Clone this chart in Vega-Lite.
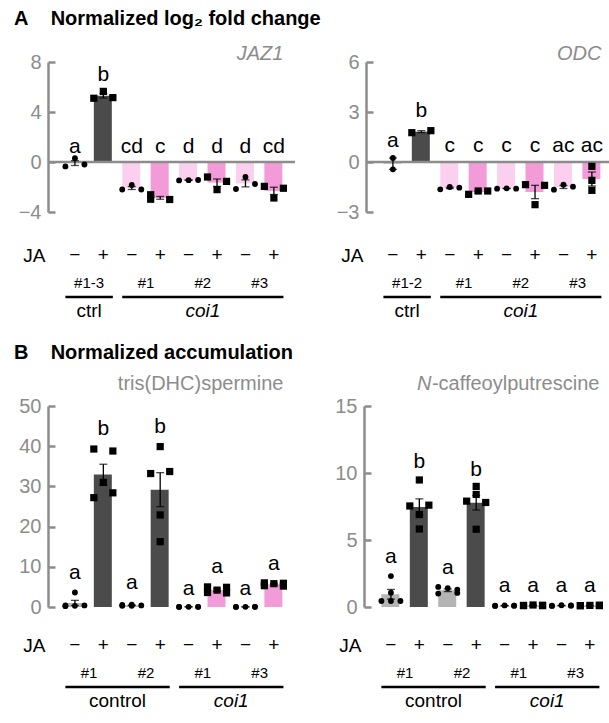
{
"$schema":"https://vega.github.io/schema/vega-lite/v6.json",
"padding":{"left":14,"top":9,"right":0,"bottom":0},
"config":{"font":"Liberation Sans","view":{"stroke":null},
"axisY":{"grid":false,"domainColor":"#8c8c8c","domainWidth":2.5,"tickColor":"#8c8c8c","tickWidth":2.5,"tickSize":-7,"labelColor":"#8c8c8c","labelFontSize":20,"labelPadding":14,"minExtent":34,"maxExtent":34},
"title":{"fontSize":20,"fontWeight":"bold","anchor":"start","color":"black"}},
"datasets":{
"bars":[
{"p":"AL","bar":"1","ja":"−","kind":"ctrl−","mean":-0.08,"lo":-0.28,"hi":0.11,"letter":"a","lab":0.7},
{"p":"AL","bar":"2","ja":"+","kind":"ctrl+","mean":5.3,"lo":5.12,"hi":5.48,"letter":"b","lab":6.5},
{"p":"AL","bar":"3","ja":"−","kind":"coi1−","mean":-2.08,"lo":-2.2,"hi":-1.96,"letter":"cd","lab":0.7},
{"p":"AL","bar":"4","ja":"+","kind":"coi1+","mean":-2.87,"lo":-2.98,"hi":-2.76,"letter":"c","lab":0.7},
{"p":"AL","bar":"5","ja":"−","kind":"coi1−","mean":-1.45,"lo":-1.47,"hi":-1.43,"letter":"d","lab":0.7},
{"p":"AL","bar":"6","ja":"+","kind":"coi1+","mean":-1.65,"lo":-1.95,"hi":-1.36,"letter":"d","lab":0.7},
{"p":"AL","bar":"7","ja":"−","kind":"coi1−","mean":-1.71,"lo":-1.99,"hi":-1.43,"letter":"d","lab":0.7},
{"p":"AL","bar":"8","ja":"+","kind":"coi1+","mean":-2.31,"lo":-2.6,"hi":-2.02,"letter":"cd","lab":0.7},
{"p":"AR","bar":"1","ja":"−","kind":"ctrl−","mean":-0.1,"lo":-0.44,"hi":0.24,"letter":"a","lab":0.9},
{"p":"AR","bar":"2","ja":"+","kind":"ctrl+","mean":1.82,"lo":1.76,"hi":1.88,"letter":"b","lab":2.7},
{"p":"AR","bar":"3","ja":"−","kind":"coi1−","mean":-1.56,"lo":-1.6,"hi":-1.52,"letter":"c","lab":0.6},
{"p":"AR","bar":"4","ja":"+","kind":"coi1+","mean":-1.8,"lo":-1.87,"hi":-1.74,"letter":"c","lab":0.6},
{"p":"AR","bar":"5","ja":"−","kind":"coi1−","mean":-1.59,"lo":-1.6,"hi":-1.58,"letter":"c","lab":0.6},
{"p":"AR","bar":"6","ja":"+","kind":"coi1+","mean":-1.8,"lo":-2.2,"hi":-1.4,"letter":"c","lab":0.6},
{"p":"AR","bar":"7","ja":"−","kind":"coi1−","mean":-1.5,"lo":-1.59,"hi":-1.41,"letter":"ac","lab":0.6},
{"p":"AR","bar":"8","ja":"+","kind":"coi1+","mean":-1.02,"lo":-1.44,"hi":-0.6,"letter":"ac","lab":0.6},
{"p":"BL","bar":"1","ja":"−","kind":"ctrl−","mean":1.0,"lo":0.35,"hi":1.65,"letter":"a","lab":6.9},
{"p":"BL","bar":"2","ja":"+","kind":"ctrl+","mean":32.94,"lo":30.37,"hi":35.51,"letter":"b","lab":42.8},
{"p":"BL","bar":"3","ja":"−","kind":"ctrl−","mean":0.42,"lo":0.36,"hi":0.48,"letter":"a","lab":4.4},
{"p":"BL","bar":"4","ja":"+","kind":"ctrl+","mean":29.19,"lo":24.96,"hi":33.42,"letter":"b","lab":43.4},
{"p":"BL","bar":"5","ja":"−","kind":"coi1−","mean":0.04,"lo":0.036,"hi":0.044,"letter":"a","lab":3.0},
{"p":"BL","bar":"6","ja":"+","kind":"coi1+","mean":4.24,"lo":3.93,"hi":4.55,"letter":"a","lab":8.5},
{"p":"BL","bar":"7","ja":"−","kind":"coi1−","mean":0.04,"lo":0.036,"hi":0.044,"letter":"a","lab":3.0},
{"p":"BL","bar":"8","ja":"+","kind":"coi1+","mean":5.64,"lo":5.45,"hi":5.83,"letter":"a","lab":9.2},
{"p":"BR","bar":"1","ja":"−","kind":"ctrl−","mean":0.95,"lo":0.59,"hi":1.31,"letter":"a","lab":3.26},
{"p":"BR","bar":"2","ja":"+","kind":"ctrl+","mean":7.47,"lo":6.87,"hi":8.07,"letter":"b","lab":10.4},
{"p":"BR","bar":"3","ja":"−","kind":"ctrl−","mean":1.25,"lo":1.15,"hi":1.35,"letter":"a","lab":2.5},
{"p":"BR","bar":"4","ja":"+","kind":"ctrl+","mean":7.78,"lo":7.24,"hi":8.32,"letter":"b","lab":9.8},
{"p":"BR","bar":"5","ja":"−","kind":"coi1−","mean":0.1,"lo":0.09,"hi":0.11,"letter":"a","lab":1.15},
{"p":"BR","bar":"6","ja":"+","kind":"coi1+","mean":0.12,"lo":0.11,"hi":0.13,"letter":"a","lab":1.15},
{"p":"BR","bar":"7","ja":"−","kind":"coi1−","mean":0.11,"lo":0.1,"hi":0.12,"letter":"a","lab":1.15},
{"p":"BR","bar":"8","ja":"+","kind":"coi1+","mean":0.11,"lo":0.1,"hi":0.12,"letter":"a","lab":1.15}
],
"pts":[
{"p":"AL","bar":"1","ja":"−","col":"C","v":0.3},{"p":"AL","bar":"1","ja":"−","col":"L","v":-0.35},{"p":"AL","bar":"1","ja":"−","col":"R","v":-0.2},
{"p":"AL","bar":"2","ja":"+","col":"C","v":5.65},{"p":"AL","bar":"2","ja":"+","col":"L","v":5.1},{"p":"AL","bar":"2","ja":"+","col":"R","v":5.15},
{"p":"AL","bar":"3","ja":"−","col":"C","v":-1.84},{"p":"AL","bar":"3","ja":"−","col":"L","v":-2.2},{"p":"AL","bar":"3","ja":"−","col":"R","v":-2.2},
{"p":"AL","bar":"4","ja":"+","col":"L","v":-2.62},{"p":"AL","bar":"4","ja":"+","col":"L","v":-2.98},{"p":"AL","bar":"4","ja":"+","col":"R","v":-3.0},
{"p":"AL","bar":"5","ja":"−","col":"L","v":-1.47},{"p":"AL","bar":"5","ja":"−","col":"C","v":-1.45},{"p":"AL","bar":"5","ja":"−","col":"R","v":-1.44},
{"p":"AL","bar":"6","ja":"+","col":"L","v":-1.2},{"p":"AL","bar":"6","ja":"+","col":"R","v":-1.55},{"p":"AL","bar":"6","ja":"+","col":"C","v":-2.21},
{"p":"AL","bar":"7","ja":"−","col":"C","v":-1.2},{"p":"AL","bar":"7","ja":"−","col":"L","v":-2.16},{"p":"AL","bar":"7","ja":"−","col":"R","v":-1.76},
{"p":"AL","bar":"8","ja":"+","col":"L","v":-1.95},{"p":"AL","bar":"8","ja":"+","col":"R","v":-2.1},{"p":"AL","bar":"8","ja":"+","col":"C","v":-2.88},
{"p":"AR","bar":"1","ja":"−","col":"C","v":0.24},{"p":"AR","bar":"1","ja":"−","col":"C","v":-0.44},
{"p":"AR","bar":"2","ja":"+","col":"L","v":1.76},{"p":"AR","bar":"2","ja":"+","col":"R","v":1.88},
{"p":"AR","bar":"3","ja":"−","col":"L","v":-1.64},{"p":"AR","bar":"3","ja":"−","col":"C","v":-1.5},{"p":"AR","bar":"3","ja":"−","col":"R","v":-1.54},
{"p":"AR","bar":"4","ja":"+","col":"L","v":-1.94},{"p":"AR","bar":"4","ja":"+","col":"C","v":-1.74},{"p":"AR","bar":"4","ja":"+","col":"R","v":-1.74},
{"p":"AR","bar":"5","ja":"−","col":"L","v":-1.6},{"p":"AR","bar":"5","ja":"−","col":"C","v":-1.58},{"p":"AR","bar":"5","ja":"−","col":"R","v":-1.6},
{"p":"AR","bar":"6","ja":"+","col":"L","v":-1.36},{"p":"AR","bar":"6","ja":"+","col":"R","v":-1.4},{"p":"AR","bar":"6","ja":"+","col":"C","v":-2.56},
{"p":"AR","bar":"7","ja":"−","col":"L","v":-1.66},{"p":"AR","bar":"7","ja":"−","col":"C","v":-1.36},{"p":"AR","bar":"7","ja":"−","col":"R","v":-1.48},
{"p":"AR","bar":"8","ja":"+","col":"C","v":-0.26},{"p":"AR","bar":"8","ja":"+","col":"C","v":-1.1},{"p":"AR","bar":"8","ja":"+","col":"C","v":-1.7},
{"p":"BL","bar":"1","ja":"−","col":"C","v":3.6},{"p":"BL","bar":"1","ja":"−","col":"L","v":0.4},{"p":"BL","bar":"1","ja":"−","col":"C","v":0.3},{"p":"BL","bar":"1","ja":"−","col":"R","v":0.4},{"p":"BL","bar":"1","ja":"−","col":"L","v":0.2},
{"p":"BL","bar":"2","ja":"+","col":"L","v":39.3},{"p":"BL","bar":"2","ja":"+","col":"R","v":38.8},{"p":"BL","bar":"2","ja":"+","col":"C","v":31.0},{"p":"BL","bar":"2","ja":"+","col":"R","v":28.4},{"p":"BL","bar":"2","ja":"+","col":"L","v":27.2},
{"p":"BL","bar":"3","ja":"−","col":"L","v":0.5},{"p":"BL","bar":"3","ja":"−","col":"C","v":0.6},{"p":"BL","bar":"3","ja":"−","col":"R","v":0.4},{"p":"BL","bar":"3","ja":"−","col":"C","v":0.3},{"p":"BL","bar":"3","ja":"−","col":"L","v":0.3},
{"p":"BL","bar":"4","ja":"+","col":"C","v":39.9},{"p":"BL","bar":"4","ja":"+","col":"L","v":33.2},{"p":"BL","bar":"4","ja":"+","col":"R","v":33.7},{"p":"BL","bar":"4","ja":"+","col":"C","v":22.9},{"p":"BL","bar":"4","ja":"+","col":"C","v":16.25},
{"p":"BL","bar":"5","ja":"−","col":"L","v":0.05},{"p":"BL","bar":"5","ja":"−","col":"C","v":0.05},{"p":"BL","bar":"5","ja":"−","col":"R","v":0.05},{"p":"BL","bar":"5","ja":"−","col":"L","v":0.03},{"p":"BL","bar":"5","ja":"−","col":"R","v":0.04},
{"p":"BL","bar":"6","ja":"+","col":"L","v":5.0},{"p":"BL","bar":"6","ja":"+","col":"R","v":4.9},{"p":"BL","bar":"6","ja":"+","col":"C","v":4.2},{"p":"BL","bar":"6","ja":"+","col":"L","v":3.6},{"p":"BL","bar":"6","ja":"+","col":"R","v":3.5},
{"p":"BL","bar":"7","ja":"−","col":"L","v":0.04},{"p":"BL","bar":"7","ja":"−","col":"C","v":0.05},{"p":"BL","bar":"7","ja":"−","col":"R","v":0.04},{"p":"BL","bar":"7","ja":"−","col":"L","v":0.03},{"p":"BL","bar":"7","ja":"−","col":"R","v":0.05},
{"p":"BL","bar":"8","ja":"+","col":"L","v":6.0},{"p":"BL","bar":"8","ja":"+","col":"C","v":5.8},{"p":"BL","bar":"8","ja":"+","col":"R","v":5.9},{"p":"BL","bar":"8","ja":"+","col":"L","v":5.3},{"p":"BL","bar":"8","ja":"+","col":"R","v":5.2},
{"p":"BR","bar":"1","ja":"−","col":"C","v":2.31},{"p":"BR","bar":"1","ja":"−","col":"C","v":1.07},{"p":"BR","bar":"1","ja":"−","col":"L","v":0.45},{"p":"BR","bar":"1","ja":"−","col":"C","v":0.45},{"p":"BR","bar":"1","ja":"−","col":"R","v":0.45},
{"p":"BR","bar":"2","ja":"+","col":"C","v":9.48},{"p":"BR","bar":"2","ja":"+","col":"L","v":7.54},{"p":"BR","bar":"2","ja":"+","col":"R","v":7.6},{"p":"BR","bar":"2","ja":"+","col":"C","v":6.9},{"p":"BR","bar":"2","ja":"+","col":"C","v":5.82},
{"p":"BR","bar":"3","ja":"−","col":"L","v":1.5},{"p":"BR","bar":"3","ja":"−","col":"C","v":1.4},{"p":"BR","bar":"3","ja":"−","col":"R","v":1.3},{"p":"BR","bar":"3","ja":"−","col":"L","v":1.0},{"p":"BR","bar":"3","ja":"−","col":"R","v":1.05},
{"p":"BR","bar":"4","ja":"+","col":"C","v":9.0},{"p":"BR","bar":"4","ja":"+","col":"C","v":8.4},{"p":"BR","bar":"4","ja":"+","col":"L","v":7.9},{"p":"BR","bar":"4","ja":"+","col":"R","v":7.8},{"p":"BR","bar":"4","ja":"+","col":"C","v":5.8},
{"p":"BR","bar":"5","ja":"−","col":"L","v":0.1},{"p":"BR","bar":"5","ja":"−","col":"C","v":0.12},{"p":"BR","bar":"5","ja":"−","col":"R","v":0.1},{"p":"BR","bar":"5","ja":"−","col":"L","v":0.08},{"p":"BR","bar":"5","ja":"−","col":"R","v":0.1},
{"p":"BR","bar":"6","ja":"+","col":"L","v":0.12},{"p":"BR","bar":"6","ja":"+","col":"C","v":0.15},{"p":"BR","bar":"6","ja":"+","col":"R","v":0.1},{"p":"BR","bar":"6","ja":"+","col":"L","v":0.1},{"p":"BR","bar":"6","ja":"+","col":"R","v":0.13},
{"p":"BR","bar":"7","ja":"−","col":"L","v":0.1},{"p":"BR","bar":"7","ja":"−","col":"C","v":0.13},{"p":"BR","bar":"7","ja":"−","col":"R","v":0.1},{"p":"BR","bar":"7","ja":"−","col":"L","v":0.08},{"p":"BR","bar":"7","ja":"−","col":"R","v":0.12},
{"p":"BR","bar":"8","ja":"+","col":"L","v":0.1},{"p":"BR","bar":"8","ja":"+","col":"C","v":0.12},{"p":"BR","bar":"8","ja":"+","col":"R","v":0.14},{"p":"BR","bar":"8","ja":"+","col":"L","v":0.1},{"p":"BR","bar":"8","ja":"+","col":"R","v":0.1}
],
"genes":[{"p":"AL","g":"JAZ1"},{"p":"AR","g":"ODC"},{"p":"BL","g":"tris(DHC)spermine"},{"p":"BR","g":"-caffeoylputrescine"}],
"nums":[
{"p":"AL","at":"1","t":"#1-3"},{"p":"AL","at":"3","t":"#1"},{"p":"AL","at":"5","t":"#2"},{"p":"AL","at":"7","t":"#3"},
{"p":"AR","at":"1","t":"#1-2"},{"p":"AR","at":"3","t":"#1"},{"p":"AR","at":"5","t":"#2"},{"p":"AR","at":"7","t":"#3"},
{"p":"BL","at":"1","t":"#1"},{"p":"BL","at":"3","t":"#2"},{"p":"BL","at":"5","t":"#1"},{"p":"BL","at":"7","t":"#3"},
{"p":"BR","at":"1","t":"#1"},{"p":"BR","at":"3","t":"#2"},{"p":"BR","at":"5","t":"#1"},{"p":"BR","at":"7","t":"#3"}],
"groups":[
{"p":"AL","from":"1","to":"2","mid":"1","name":"ctrl"},{"p":"AL","from":"3","to":"8","mid":"5","name":"coi1"},
{"p":"AR","from":"1","to":"2","mid":"1","name":"ctrl"},{"p":"AR","from":"3","to":"8","mid":"5","name":"coi1"},
{"p":"BL","from":"1","to":"4","mid":"2","name":"control"},{"p":"BL","from":"5","to":"8","mid":"6","name":"coi1"},
{"p":"BR","from":"1","to":"4","mid":"2","name":"control"},{"p":"BR","from":"5","to":"8","mid":"6","name":"coi1"}]
},
"spacing":22,
"vconcat":[
{"title":{"text":"A\u00a0\u00a0\u00a0\u00a0Normalized log₂ fold change","offset":15},"spacing":35,"hconcat":[
 {"spacing":24,"vconcat":[
  {"width":247,"height":150,"layer":[
   {"data":{"name":"bars"},"transform":[{"filter":"datum.p=='AL'"}],"mark":{"type":"bar"},"encoding":{
     "x":{"field":"bar","type":"ordinal","scale":{"type":"band","domain":["1","2","3","4","5","6","7","8"],"paddingInner":0.33,"paddingOuter":0.51,"align":0.6},"axis":null},
     "y":{"field":"mean","type":"quantitative","title":null,"scale":{"domain":[-4,8],"nice":false,"zero":false},"axis":{"values":[-4,0,4,8],"title":null}},
     "color":{"field":"kind","type":"nominal","scale":{"domain":["ctrl−","ctrl+","coi1−","coi1+"],"range":["#b4b4b4","#4b4b4b","#fbd0ef","#f29bd8"]},"legend":null}}},
   {"data":{"name":"genes"},"transform":[{"filter":"datum.p=='AL'"}],"mark":{"type":"rule","color":"#8c8c8c","strokeWidth":2.5},"encoding":{"y":{"datum":0,"type":"quantitative"}}},
   {"data":{"name":"bars"},"transform":[{"filter":"datum.p=='AL'"}],"mark":{"type":"rule","color":"black","strokeWidth":1.3},"encoding":{
     "x":{"field":"bar","type":"ordinal","axis":null},"y":{"field":"lo","type":"quantitative","title":null,"axis":{"values":[-4,0,4,8],"title":null}},"y2":{"field":"hi"}}},
   {"data":{"name":"bars"},"transform":[{"filter":"datum.p=='AL'"}],"mark":{"type":"tick","color":"black","thickness":1.3,"size":8},"encoding":{
     "x":{"field":"bar","type":"ordinal","axis":null},"y":{"field":"lo","type":"quantitative","title":null,"axis":{"values":[-4,0,4,8],"title":null}}}},
   {"data":{"name":"bars"},"transform":[{"filter":"datum.p=='AL'"}],"mark":{"type":"tick","color":"black","thickness":1.3,"size":8},"encoding":{
     "x":{"field":"bar","type":"ordinal","axis":null},"y":{"field":"hi","type":"quantitative","title":null,"axis":{"values":[-4,0,4,8],"title":null}}}},
   {"data":{"name":"pts"},"transform":[{"filter":"datum.p=='AL'"}],"mark":{"type":"point","filled":true,"color":"black","opacity":1},"encoding":{
     "x":{"field":"bar","type":"ordinal","axis":null},
     "xOffset":{"field":"col","type":"nominal","scale":{"domain":["L","C","R"],"paddingInner":0,"paddingOuter":0}},
     "y":{"field":"v","type":"quantitative","title":null,"axis":{"values":[-4,0,4,8],"title":null}},
     "shape":{"field":"ja","type":"nominal","scale":{"domain":["−","+"],"range":["circle","square"]},"legend":null},
     "size":{"field":"ja","type":"ordinal","scale":{"domain":["−","+"],"range":[34,52]},"legend":null}}},
   {"data":{"name":"bars"},"transform":[{"filter":"datum.p=='AL'"}],"mark":{"type":"text","fontSize":21,"baseline":"alphabetic","color":"black"},"encoding":{
     "x":{"field":"bar","type":"ordinal","axis":null},"y":{"field":"lab","type":"quantitative","title":null,"axis":{"values":[-4,0,4,8],"title":null}},"text":{"field":"letter"}}},
   {"data":{"name":"genes"},"transform":[{"filter":"datum.p=='AL'"}],"mark":{"type":"text","fontSize":20,"fontStyle":"italic","color":"#8c8c8c","align":"right","baseline":"alphabetic","dy":-2},"encoding":{
     "x":{"datum":"8","type":"ordinal","bandPosition":1,"axis":null},"y":{"datum":8,"type":"quantitative"},"text":{"field":"g"}}}
  ]},
  {"width":247,"height":70,"layer":[
   {"data":{"name":"bars"},"transform":[{"filter":"datum.p=='AL'"}],"mark":{"type":"text","fontSize":19,"color":"black","baseline":"middle"},"encoding":{
     "x":{"field":"bar","type":"ordinal","scale":{"type":"band","domain":["1","2","3","4","5","6","7","8"],"paddingInner":0.33,"paddingOuter":0.51,"align":0.6},"axis":null},
     "y":{"datum":"sign","type":"ordinal","scale":{"type":"point","domain":["sign","gap","num","line","name"],"padding":0.5},"axis":{"labelExpr":"datum.value == 'sign' ? 'JA' : ''","labelColor":"black","labelFontSize":19,"domain":false,"ticks":false,"labelPadding":3,"title":null}},
     "text":{"field":"ja"}}},
   {"data":{"name":"nums"},"transform":[{"filter":"datum.p=='AL'"}],"mark":{"type":"text","fontSize":15,"color":"black","baseline":"middle"},"encoding":{
     "x":{"field":"at","type":"ordinal","bandPosition":1.246,"axis":null},"y":{"datum":"num","type":"ordinal"},"text":{"field":"t"}}},
   {"data":{"name":"groups"},"transform":[{"filter":"datum.p=='AL'"}],"mark":{"type":"rule","color":"black","strokeWidth":2.5},"encoding":{
     "x":{"field":"from","type":"ordinal","bandPosition":0,"axis":null},"x2":{"field":"to","bandPosition":1},"y":{"datum":"line","type":"ordinal"}}},
   {"data":{"name":"groups"},"transform":[{"filter":"datum.p=='AL' && datum.name!='coi1'"}],"mark":{"type":"text","fontSize":19,"color":"black","baseline":"middle"},"encoding":{
     "x":{"field":"mid","type":"ordinal","bandPosition":1.246,"axis":null},"y":{"datum":"name","type":"ordinal"},"text":{"field":"name"}}},
   {"data":{"name":"groups"},"transform":[{"filter":"datum.p=='AL' && datum.name=='coi1'"}],"mark":{"type":"text","fontSize":19,"fontStyle":"italic","color":"black","baseline":"middle"},"encoding":{
     "x":{"field":"mid","type":"ordinal","bandPosition":1.246,"axis":null},"y":{"datum":"name","type":"ordinal"},"text":{"field":"name"}}}
  ]}
 ]},
 {"spacing":24,"vconcat":[
  {"width":247,"height":150,"layer":[
   {"data":{"name":"bars"},"transform":[{"filter":"datum.p=='AR'"}],"mark":{"type":"bar"},"encoding":{
     "x":{"field":"bar","type":"ordinal","scale":{"type":"band","domain":["1","2","3","4","5","6","7","8"],"paddingInner":0.33,"paddingOuter":0.51,"align":0.6},"axis":null},
     "y":{"field":"mean","type":"quantitative","title":null,"scale":{"domain":[-3,6],"nice":false,"zero":false},"axis":{"values":[-3,0,3,6],"title":null}},
     "color":{"field":"kind","type":"nominal","scale":{"domain":["ctrl−","ctrl+","coi1−","coi1+"],"range":["#b4b4b4","#4b4b4b","#fbd0ef","#f29bd8"]},"legend":null}}},
   {"data":{"name":"genes"},"transform":[{"filter":"datum.p=='AR'"}],"mark":{"type":"rule","color":"#8c8c8c","strokeWidth":2.5},"encoding":{"y":{"datum":0,"type":"quantitative"}}},
   {"data":{"name":"bars"},"transform":[{"filter":"datum.p=='AR'"}],"mark":{"type":"rule","color":"black","strokeWidth":1.3},"encoding":{
     "x":{"field":"bar","type":"ordinal","axis":null},"y":{"field":"lo","type":"quantitative","title":null,"axis":{"values":[-3,0,3,6],"title":null}},"y2":{"field":"hi"}}},
   {"data":{"name":"bars"},"transform":[{"filter":"datum.p=='AR'"}],"mark":{"type":"tick","color":"black","thickness":1.3,"size":8},"encoding":{
     "x":{"field":"bar","type":"ordinal","axis":null},"y":{"field":"lo","type":"quantitative","title":null,"axis":{"values":[-3,0,3,6],"title":null}}}},
   {"data":{"name":"bars"},"transform":[{"filter":"datum.p=='AR'"}],"mark":{"type":"tick","color":"black","thickness":1.3,"size":8},"encoding":{
     "x":{"field":"bar","type":"ordinal","axis":null},"y":{"field":"hi","type":"quantitative","title":null,"axis":{"values":[-3,0,3,6],"title":null}}}},
   {"data":{"name":"pts"},"transform":[{"filter":"datum.p=='AR'"}],"mark":{"type":"point","filled":true,"color":"black","opacity":1},"encoding":{
     "x":{"field":"bar","type":"ordinal","axis":null},
     "xOffset":{"field":"col","type":"nominal","scale":{"domain":["L","C","R"],"paddingInner":0,"paddingOuter":0}},
     "y":{"field":"v","type":"quantitative","title":null,"axis":{"values":[-3,0,3,6],"title":null}},
     "shape":{"field":"ja","type":"nominal","scale":{"domain":["−","+"],"range":["circle","square"]},"legend":null},
     "size":{"field":"ja","type":"ordinal","scale":{"domain":["−","+"],"range":[34,52]},"legend":null}}},
   {"data":{"name":"bars"},"transform":[{"filter":"datum.p=='AR'"}],"mark":{"type":"text","fontSize":21,"baseline":"alphabetic","color":"black"},"encoding":{
     "x":{"field":"bar","type":"ordinal","axis":null},"y":{"field":"lab","type":"quantitative","title":null,"axis":{"values":[-3,0,3,6],"title":null}},"text":{"field":"letter"}}},
   {"data":{"name":"genes"},"transform":[{"filter":"datum.p=='AR'"}],"mark":{"type":"text","fontSize":20,"fontStyle":"italic","color":"#8c8c8c","align":"right","baseline":"alphabetic","dy":-2},"encoding":{
     "x":{"datum":"8","type":"ordinal","bandPosition":1,"axis":null},"y":{"datum":6,"type":"quantitative"},"text":{"field":"g"}}}
  ]},
  {"width":247,"height":70,"layer":[
   {"data":{"name":"bars"},"transform":[{"filter":"datum.p=='AR'"}],"mark":{"type":"text","fontSize":19,"color":"black","baseline":"middle"},"encoding":{
     "x":{"field":"bar","type":"ordinal","scale":{"type":"band","domain":["1","2","3","4","5","6","7","8"],"paddingInner":0.33,"paddingOuter":0.51,"align":0.6},"axis":null},
     "y":{"datum":"sign","type":"ordinal","scale":{"type":"point","domain":["sign","gap","num","line","name"],"padding":0.5},"axis":{"labelExpr":"datum.value == 'sign' ? 'JA' : ''","labelColor":"black","labelFontSize":19,"domain":false,"ticks":false,"labelPadding":3,"title":null}},
     "text":{"field":"ja"}}},
   {"data":{"name":"nums"},"transform":[{"filter":"datum.p=='AR'"}],"mark":{"type":"text","fontSize":15,"color":"black","baseline":"middle"},"encoding":{
     "x":{"field":"at","type":"ordinal","bandPosition":1.246,"axis":null},"y":{"datum":"num","type":"ordinal"},"text":{"field":"t"}}},
   {"data":{"name":"groups"},"transform":[{"filter":"datum.p=='AR'"}],"mark":{"type":"rule","color":"black","strokeWidth":2.5},"encoding":{
     "x":{"field":"from","type":"ordinal","bandPosition":0,"axis":null},"x2":{"field":"to","bandPosition":1},"y":{"datum":"line","type":"ordinal"}}},
   {"data":{"name":"groups"},"transform":[{"filter":"datum.p=='AR' && datum.name!='coi1'"}],"mark":{"type":"text","fontSize":19,"color":"black","baseline":"middle"},"encoding":{
     "x":{"field":"mid","type":"ordinal","bandPosition":1.246,"axis":null},"y":{"datum":"name","type":"ordinal"},"text":{"field":"name"}}},
   {"data":{"name":"groups"},"transform":[{"filter":"datum.p=='AR' && datum.name=='coi1'"}],"mark":{"type":"text","fontSize":19,"fontStyle":"italic","color":"black","baseline":"middle"},"encoding":{
     "x":{"field":"mid","type":"ordinal","bandPosition":1.246,"axis":null},"y":{"datum":"name","type":"ordinal"},"text":{"field":"name"}}}
  ]}
 ]}
]},
{"title":{"text":"B\u00a0\u00a0\u00a0\u00a0Normalized accumulation","offset":11},"spacing":35,"hconcat":[
 {"spacing":19,"vconcat":[
  {"width":247,"height":201,"layer":[
   {"data":{"name":"bars"},"transform":[{"filter":"datum.p=='BL'"}],"mark":{"type":"bar"},"encoding":{
     "x":{"field":"bar","type":"ordinal","scale":{"type":"band","domain":["1","2","3","4","5","6","7","8"],"paddingInner":0.33,"paddingOuter":0.51,"align":0.6},"axis":null},
     "y":{"field":"mean","type":"quantitative","title":null,"scale":{"domain":[0,50],"nice":false,"zero":false},"axis":{"values":[0,10,20,30,40,50],"title":null}},
     "color":{"field":"kind","type":"nominal","scale":{"domain":["ctrl−","ctrl+","coi1−","coi1+"],"range":["#b4b4b4","#4b4b4b","#fbd0ef","#f29bd8"]},"legend":null}}},
   {"data":{"name":"bars"},"transform":[{"filter":"datum.p=='BL'"}],"mark":{"type":"rule","color":"black","strokeWidth":1.3},"encoding":{
     "x":{"field":"bar","type":"ordinal","axis":null},"y":{"field":"lo","type":"quantitative","title":null,"axis":{"values":[0,10,20,30,40,50],"title":null}},"y2":{"field":"hi"}}},
   {"data":{"name":"bars"},"transform":[{"filter":"datum.p=='BL'"}],"mark":{"type":"tick","color":"black","thickness":1.3,"size":8},"encoding":{
     "x":{"field":"bar","type":"ordinal","axis":null},"y":{"field":"lo","type":"quantitative","title":null,"axis":{"values":[0,10,20,30,40,50],"title":null}}}},
   {"data":{"name":"bars"},"transform":[{"filter":"datum.p=='BL'"}],"mark":{"type":"tick","color":"black","thickness":1.3,"size":8},"encoding":{
     "x":{"field":"bar","type":"ordinal","axis":null},"y":{"field":"hi","type":"quantitative","title":null,"axis":{"values":[0,10,20,30,40,50],"title":null}}}},
   {"data":{"name":"pts"},"transform":[{"filter":"datum.p=='BL'"}],"mark":{"type":"point","filled":true,"color":"black","opacity":1},"encoding":{
     "x":{"field":"bar","type":"ordinal","axis":null},
     "xOffset":{"field":"col","type":"nominal","scale":{"domain":["L","C","R"],"paddingInner":0,"paddingOuter":0}},
     "y":{"field":"v","type":"quantitative","title":null,"axis":{"values":[0,10,20,30,40,50],"title":null}},
     "shape":{"field":"ja","type":"nominal","scale":{"domain":["−","+"],"range":["circle","square"]},"legend":null},
     "size":{"field":"ja","type":"ordinal","scale":{"domain":["−","+"],"range":[34,52]},"legend":null}}},
   {"data":{"name":"bars"},"transform":[{"filter":"datum.p=='BL'"}],"mark":{"type":"text","fontSize":21,"baseline":"alphabetic","color":"black"},"encoding":{
     "x":{"field":"bar","type":"ordinal","axis":null},"y":{"field":"lab","type":"quantitative","title":null,"axis":{"values":[0,10,20,30,40,50],"title":null}},"text":{"field":"letter"}}},
   {"data":{"name":"genes"},"transform":[{"filter":"datum.p=='BL'"}],"mark":{"type":"text","fontSize":20,"color":"#8c8c8c","align":"right","baseline":"alphabetic","dy":-16},"encoding":{
     "x":{"datum":"8","type":"ordinal","bandPosition":1,"axis":null},"y":{"datum":50,"type":"quantitative"},"text":{"field":"g"}}}
  ]},
  {"width":247,"height":70,"layer":[
   {"data":{"name":"bars"},"transform":[{"filter":"datum.p=='BL'"}],"mark":{"type":"text","fontSize":19,"color":"black","baseline":"middle"},"encoding":{
     "x":{"field":"bar","type":"ordinal","scale":{"type":"band","domain":["1","2","3","4","5","6","7","8"],"paddingInner":0.33,"paddingOuter":0.51,"align":0.6},"axis":null},
     "y":{"datum":"sign","type":"ordinal","scale":{"type":"point","domain":["sign","gap","num","line","name"],"padding":0.5},"axis":{"labelExpr":"datum.value == 'sign' ? 'JA' : ''","labelColor":"black","labelFontSize":19,"domain":false,"ticks":false,"labelPadding":3,"title":null}},
     "text":{"field":"ja"}}},
   {"data":{"name":"nums"},"transform":[{"filter":"datum.p=='BL'"}],"mark":{"type":"text","fontSize":15,"color":"black","baseline":"middle"},"encoding":{
     "x":{"field":"at","type":"ordinal","bandPosition":1.246,"axis":null},"y":{"datum":"num","type":"ordinal"},"text":{"field":"t"}}},
   {"data":{"name":"groups"},"transform":[{"filter":"datum.p=='BL'"}],"mark":{"type":"rule","color":"black","strokeWidth":2.5},"encoding":{
     "x":{"field":"from","type":"ordinal","bandPosition":0,"axis":null},"x2":{"field":"to","bandPosition":1},"y":{"datum":"line","type":"ordinal"}}},
   {"data":{"name":"groups"},"transform":[{"filter":"datum.p=='BL' && datum.name!='coi1'"}],"mark":{"type":"text","fontSize":19,"color":"black","baseline":"middle"},"encoding":{
     "x":{"field":"mid","type":"ordinal","bandPosition":1.246,"axis":null},"y":{"datum":"name","type":"ordinal"},"text":{"field":"name"}}},
   {"data":{"name":"groups"},"transform":[{"filter":"datum.p=='BL' && datum.name=='coi1'"}],"mark":{"type":"text","fontSize":19,"fontStyle":"italic","color":"black","baseline":"middle"},"encoding":{
     "x":{"field":"mid","type":"ordinal","bandPosition":1.246,"axis":null},"y":{"datum":"name","type":"ordinal"},"text":{"field":"name"}}}
  ]}
 ]},
 {"spacing":19,"vconcat":[
  {"width":247,"height":201,"layer":[
   {"data":{"name":"bars"},"transform":[{"filter":"datum.p=='BR'"}],"mark":{"type":"bar"},"encoding":{
     "x":{"field":"bar","type":"ordinal","scale":{"type":"band","domain":["1","2","3","4","5","6","7","8"],"paddingInner":0.33,"paddingOuter":0.51,"align":0.6},"axis":null},
     "y":{"field":"mean","type":"quantitative","title":null,"scale":{"domain":[0,15],"nice":false,"zero":false},"axis":{"values":[0,5,10,15],"title":null}},
     "color":{"field":"kind","type":"nominal","scale":{"domain":["ctrl−","ctrl+","coi1−","coi1+"],"range":["#b4b4b4","#4b4b4b","#fbd0ef","#f29bd8"]},"legend":null}}},
   {"data":{"name":"bars"},"transform":[{"filter":"datum.p=='BR'"}],"mark":{"type":"rule","color":"black","strokeWidth":1.3},"encoding":{
     "x":{"field":"bar","type":"ordinal","axis":null},"y":{"field":"lo","type":"quantitative","title":null,"axis":{"values":[0,5,10,15],"title":null}},"y2":{"field":"hi"}}},
   {"data":{"name":"bars"},"transform":[{"filter":"datum.p=='BR'"}],"mark":{"type":"tick","color":"black","thickness":1.3,"size":8},"encoding":{
     "x":{"field":"bar","type":"ordinal","axis":null},"y":{"field":"lo","type":"quantitative","title":null,"axis":{"values":[0,5,10,15],"title":null}}}},
   {"data":{"name":"bars"},"transform":[{"filter":"datum.p=='BR'"}],"mark":{"type":"tick","color":"black","thickness":1.3,"size":8},"encoding":{
     "x":{"field":"bar","type":"ordinal","axis":null},"y":{"field":"hi","type":"quantitative","title":null,"axis":{"values":[0,5,10,15],"title":null}}}},
   {"data":{"name":"pts"},"transform":[{"filter":"datum.p=='BR'"}],"mark":{"type":"point","filled":true,"color":"black","opacity":1},"encoding":{
     "x":{"field":"bar","type":"ordinal","axis":null},
     "xOffset":{"field":"col","type":"nominal","scale":{"domain":["L","C","R"],"paddingInner":0,"paddingOuter":0}},
     "y":{"field":"v","type":"quantitative","title":null,"axis":{"values":[0,5,10,15],"title":null}},
     "shape":{"field":"ja","type":"nominal","scale":{"domain":["−","+"],"range":["circle","square"]},"legend":null},
     "size":{"field":"ja","type":"ordinal","scale":{"domain":["−","+"],"range":[34,52]},"legend":null}}},
   {"data":{"name":"bars"},"transform":[{"filter":"datum.p=='BR'"}],"mark":{"type":"text","fontSize":21,"baseline":"alphabetic","color":"black"},"encoding":{
     "x":{"field":"bar","type":"ordinal","axis":null},"y":{"field":"lab","type":"quantitative","title":null,"axis":{"values":[0,5,10,15],"title":null}},"text":{"field":"letter"}}},
   {"data":{"name":"genes"},"transform":[{"filter":"datum.p=='BR'"}],"mark":{"type":"text","fontSize":20,"color":"#8c8c8c","align":"right","baseline":"alphabetic","dy":-16},"encoding":{
     "x":{"datum":"8","type":"ordinal","bandPosition":1,"axis":null},"y":{"datum":15,"type":"quantitative"},"text":{"field":"g"}}},
   {"data":{"name":"genes"},"transform":[{"filter":"datum.p=='BR'"}],"mark":{"type":"text","fontSize":20,"fontStyle":"italic","color":"#8c8c8c","align":"right","baseline":"alphabetic","dy":-16,"dx":-168},"encoding":{
     "x":{"datum":"8","type":"ordinal","bandPosition":1,"axis":null},"y":{"datum":15,"type":"quantitative"},"text":{"value":"N"}}}
  ]},
  {"width":247,"height":70,"layer":[
   {"data":{"name":"bars"},"transform":[{"filter":"datum.p=='BR'"}],"mark":{"type":"text","fontSize":19,"color":"black","baseline":"middle"},"encoding":{
     "x":{"field":"bar","type":"ordinal","scale":{"type":"band","domain":["1","2","3","4","5","6","7","8"],"paddingInner":0.33,"paddingOuter":0.51,"align":0.6},"axis":null},
     "y":{"datum":"sign","type":"ordinal","scale":{"type":"point","domain":["sign","gap","num","line","name"],"padding":0.5},"axis":{"labelExpr":"datum.value == 'sign' ? 'JA' : ''","labelColor":"black","labelFontSize":19,"domain":false,"ticks":false,"labelPadding":3,"title":null}},
     "text":{"field":"ja"}}},
   {"data":{"name":"nums"},"transform":[{"filter":"datum.p=='BR'"}],"mark":{"type":"text","fontSize":15,"color":"black","baseline":"middle"},"encoding":{
     "x":{"field":"at","type":"ordinal","bandPosition":1.246,"axis":null},"y":{"datum":"num","type":"ordinal"},"text":{"field":"t"}}},
   {"data":{"name":"groups"},"transform":[{"filter":"datum.p=='BR'"}],"mark":{"type":"rule","color":"black","strokeWidth":2.5},"encoding":{
     "x":{"field":"from","type":"ordinal","bandPosition":0,"axis":null},"x2":{"field":"to","bandPosition":1},"y":{"datum":"line","type":"ordinal"}}},
   {"data":{"name":"groups"},"transform":[{"filter":"datum.p=='BR' && datum.name!='coi1'"}],"mark":{"type":"text","fontSize":19,"color":"black","baseline":"middle"},"encoding":{
     "x":{"field":"mid","type":"ordinal","bandPosition":1.246,"axis":null},"y":{"datum":"name","type":"ordinal"},"text":{"field":"name"}}},
   {"data":{"name":"groups"},"transform":[{"filter":"datum.p=='BR' && datum.name=='coi1'"}],"mark":{"type":"text","fontSize":19,"fontStyle":"italic","color":"black","baseline":"middle"},"encoding":{
     "x":{"field":"mid","type":"ordinal","bandPosition":1.246,"axis":null},"y":{"datum":"name","type":"ordinal"},"text":{"field":"name"}}}
  ]}
 ]}
]}
]
}
